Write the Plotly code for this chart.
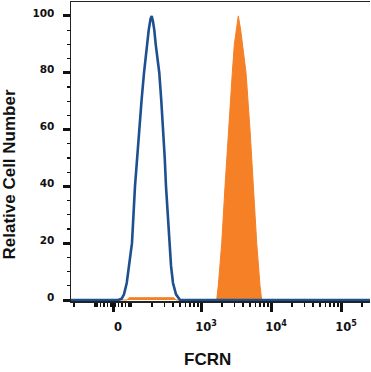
import math
import plotly.graph_objects as go

# ---- data (x in display/channel units of the biexponential axis, y = % of max) ----
blue_x = [-0.6, 0.071, 0.124, 0.157, 0.196, 0.229, 0.271, 0.314, 0.343, 0.376, 0.407,
          0.443, 0.481, 0.51, 0.536, 0.553, 0.571, 0.59, 0.61, 0.636, 0.661, 0.69,
          0.719, 0.739, 0.757, 0.781, 0.804, 0.829, 0.857, 0.9, 0.957, 3.671]
blue_y = [0, 0, 0.5, 2, 6, 12, 20, 40, 50, 60, 70,
          80, 90, 95, 99, 100, 98, 95, 90, 85, 80, 70,
          60, 50, 40, 30, 20, 12, 6, 2, 0, 0]

orange_x = [-0.6, 0.2, 0.229, 0.871, 0.9, 1.481, 1.504, 1.553, 1.6, 1.647, 1.704, 1.733,
            1.757, 1.79, 1.824, 1.847, 1.9, 1.957, 2.004, 2.053, 2.1, 2.124, 3.671]
orange_y = [0, 0, 0.8, 0.8, 0, 0, 5, 20, 40, 60, 80, 90,
            95, 100, 95, 90, 80, 60, 40, 20, 5, 0, 0]

tick_values = [0, 1000, 10000, 100000]
tick_labels = ["0", "10<sup>3</sup>", "10<sup>4</sup>", "10<sup>5</sup>"]
minor_values = [-300, -200, -100, -90, -70, -50, -30, -10, 10, 30, 50, 70, 90,
                100, 200, 300, 400, 500, 600, 700, 800, 900,
                2000, 3000, 4000, 5000, 6000, 7000, 8000, 9000,
                20000, 30000, 40000, 50000, 60000, 70000, 80000, 90000, 200000]

y_major = [0, 20, 40, 60, 80, 100]
x_title = "FCRN"
y_title = "Relative Cell Number"


def biex(v):
    """Axis position of a fluorescence value on the biexponential display scale."""
    a = abs(v)
    s = 1 if v >= 0 else -1
    if a <= 100:
        return s * 0.257 * a / 100
    return s * (math.log10(a / 100) + 0.257)


BLUE = "#1d4f91"
ORANGE = "#f58025"
AX = "#222222"

fig = go.Figure()
fig.add_trace(go.Scatter(x=orange_x, y=orange_y, mode="lines", fill="tozeroy",
                         fillcolor=ORANGE, line=dict(color=ORANGE, width=1),
                         hoverinfo="skip", showlegend=False))
fig.add_trace(go.Scatter(x=blue_x, y=blue_y, mode="lines",
                         line=dict(color=BLUE, width=2.6),
                         hoverinfo="skip", showlegend=False))

fig.update_layout(
    width=371, height=372,
    margin=dict(l=71, r=1, t=2, b=71),
    paper_bgcolor="white", plot_bgcolor="white",
    showlegend=False,
    font=dict(family="DejaVu Sans", color="#111111"),
)

fig.update_xaxes(
    range=[-0.6, 3.671], showgrid=False, zeroline=False,
    showline=True, linecolor=AX, linewidth=1.5, mirror=True,
    tickmode="array", tickvals=[biex(v) for v in tick_values], ticktext=tick_labels,
    ticks="outside", ticklen=9, tickwidth=3, tickcolor="#111111",
    tickfont=dict(size=11.5, family="DejaVu Sans", weight="bold", color="#111111"),
    ticklabelstandoff=6, ticklabelshift=5,
    minor=dict(tickmode="array", tickvals=[biex(v) for v in minor_values],
               ticks="outside", ticklen=4, tickwidth=1.6, tickcolor="#111111"),
)

fig.update_yaxes(
    range=[-0.35, 104.9], showgrid=False, zeroline=False,
    showline=True, linecolor=AX, linewidth=1.5, mirror=False,
    tickmode="array", tickvals=y_major, ticktext=[str(v) for v in y_major],
    ticks="outside", ticklen=7, tickwidth=3, tickcolor="#111111",
    tickfont=dict(size=10.5, family="DejaVu Sans", weight="bold", color="#111111"),
    ticklabelstandoff=6, ticklabelshift=-3,
    minor=dict(tickmode="linear", tick0=0, dtick=5,
               ticks="outside", ticklen=3, tickwidth=1.2, tickcolor="#111111"),
)

fig.add_annotation(text=y_title, xref="paper", yref="paper",
                   x=-0.2057, y=0.4247, xanchor="center", yanchor="middle",
                   textangle=-90, showarrow=False,
                   font=dict(size=17, family="Liberation Sans", weight="bold", color="#111111"))
fig.add_annotation(text=x_title, xref="paper", yref="paper",
                   x=0.4565, y=-0.1973, xanchor="center", yanchor="middle",
                   showarrow=False,
                   font=dict(size=17, family="Liberation Sans", weight="bold", color="#111111"))

fig.write_html("out.html", config={"displayModeBar": False, "staticPlot": True},
               post_script="document.body.style.margin='0px';document.body.style.overflow='hidden';")
